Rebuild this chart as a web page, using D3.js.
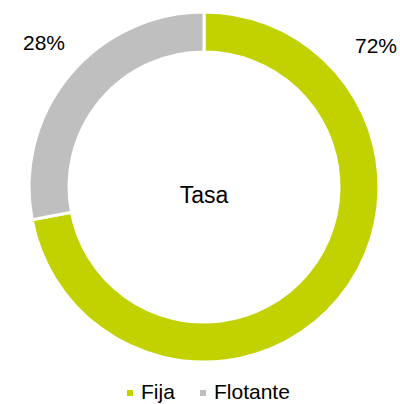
<!DOCTYPE html>
<html><head><meta charset="utf-8">
<script src="https://cdn.jsdelivr.net/npm/d3@7"></script>
<style>body{margin:0;background:#fff}svg{display:block;font-family:"Liberation Sans",Arial,sans-serif}</style>
</head><body><svg id="c" width="400" height="404"></svg>
<script>
const categories = ["Fija", "Flotante"];
const values = [72, 28];
const labels = ["72%", "28%"];
const colors = ["#c2d100", "#bfbfbf"];
const centerTitle = "Tasa";

const svg = d3.select("#c");
const cx = 204, cy = 187, rOuter = 175, rInner = 135;
const g = svg.append("g").attr("transform", `translate(${cx},${cy})`);

const pie = d3.pie().sort(null).value(d => d.v);
const data = categories.map((c, i) => ({c, v: values[i], col: colors[i], lab: labels[i]}));
const arcs = pie(data);
const arc = d3.arc().innerRadius(rInner).outerRadius(rOuter);

g.selectAll("path").data(arcs).join("path")
  .attr("d", arc).attr("fill", d => d.data.col)
  .attr("stroke", "#fff").attr("stroke-width", 3);

// data labels placed outside near the top of the ring
const labelPos = [[172, -134], [-160, -137]];
g.selectAll("text.lab").data(arcs).join("text").attr("class", "lab")
  .attr("x", (d, i) => labelPos[i][0]).attr("y", (d, i) => labelPos[i][1])
  .attr("text-anchor", "middle").attr("font-size", 21).attr("fill", "#000")
  .text(d => d.data.lab);

g.append("text").attr("x", 0).attr("y", 16).attr("text-anchor", "middle")
  .attr("font-size", 23).attr("fill", "#000").text(centerTitle);

// legend
const legend = svg.append("g").attr("transform", "translate(0,399)");
const items = [{x: 127, tx: 141}, {x: 200, tx: 214}];
data.forEach((d, i) => {
  legend.append("rect").attr("x", items[i].x).attr("y", -9).attr("width", 6).attr("height", 6).attr("fill", d.col);
  legend.append("text").attr("x", items[i].tx).attr("y", 0).attr("font-size", 21).attr("fill", "#000").text(d.c);
});
</script></body></html>
